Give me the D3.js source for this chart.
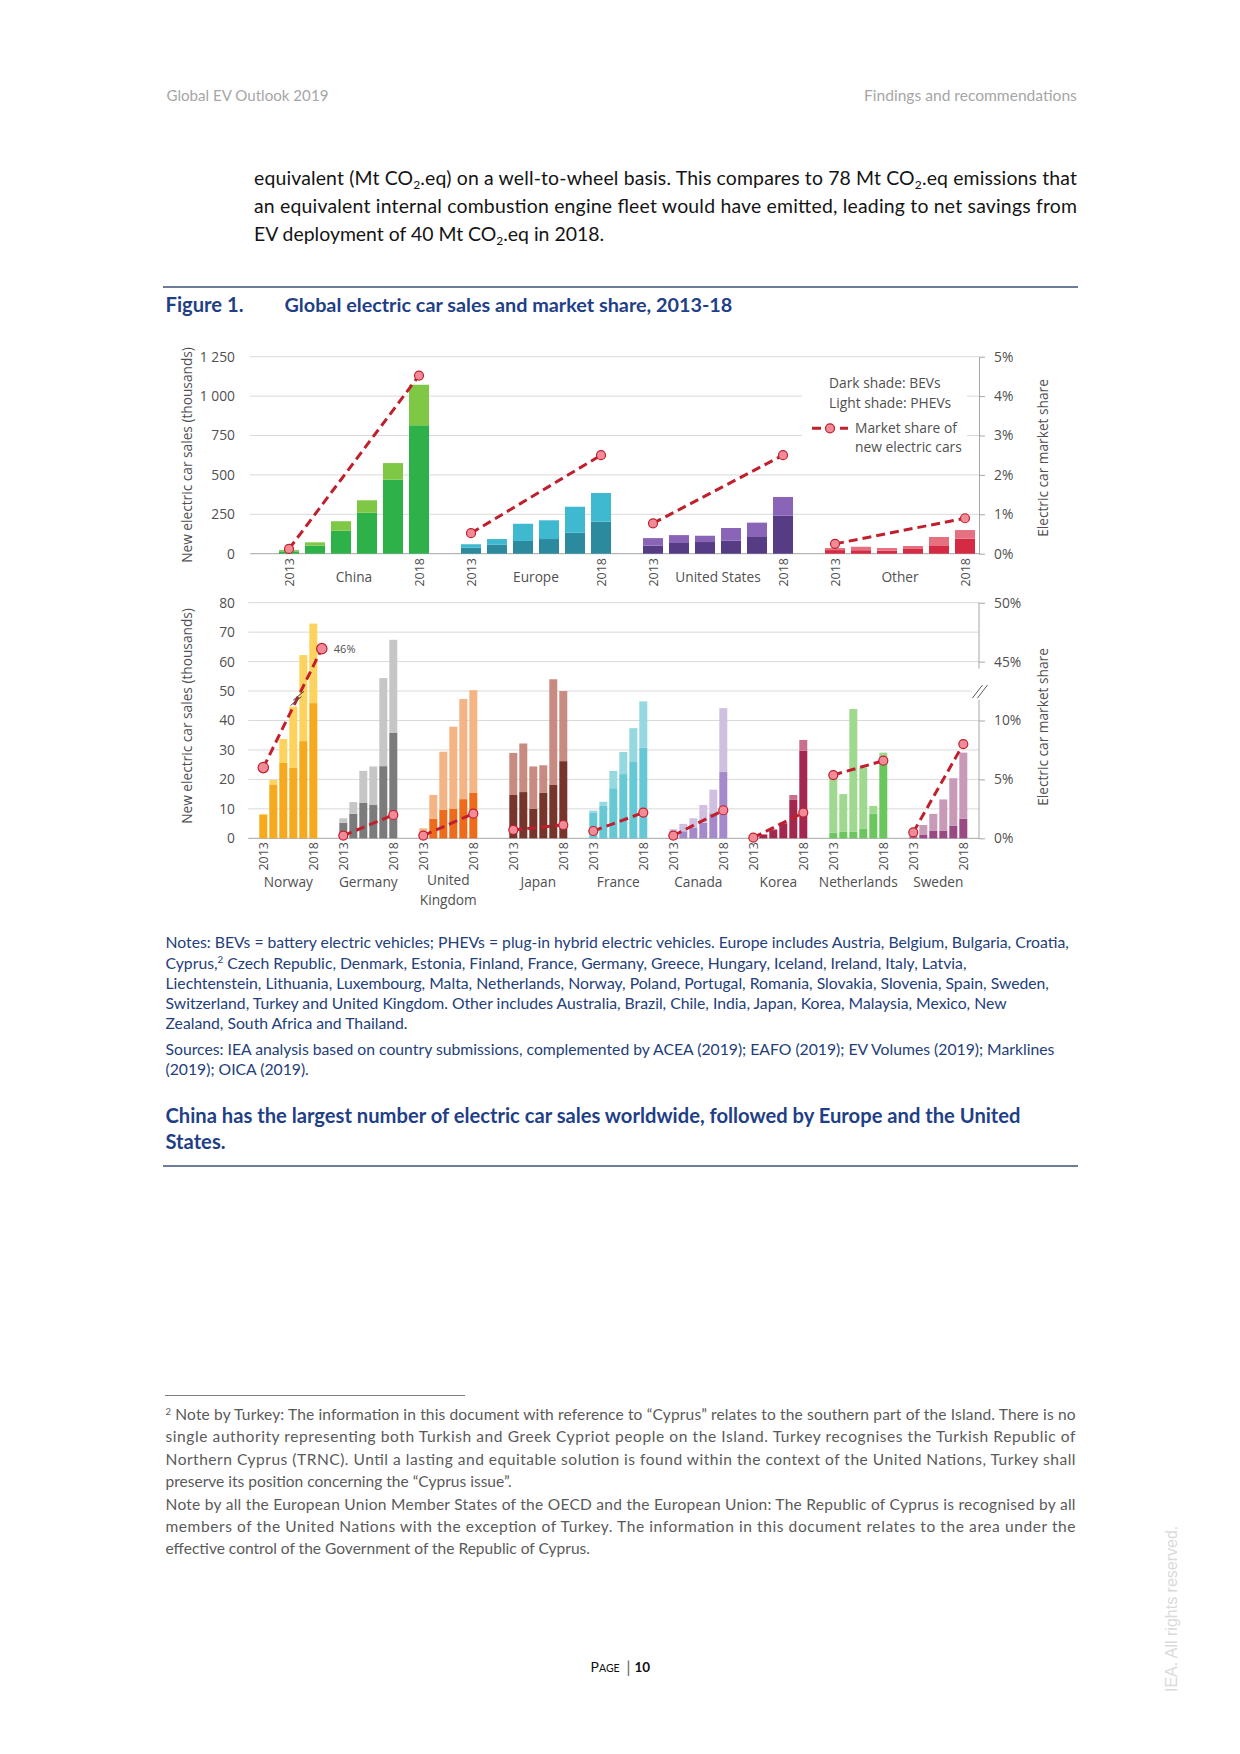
<!DOCTYPE html>
<html><head><meta charset="utf-8">
<script src="https://cdn.jsdelivr.net/npm/d3@7"></script>
<style>
html,body{margin:0;padding:0;background:#fff;}
svg{display:block;}
</style></head><body>
<svg id="page" width="1240" height="1754"></svg>
<script>
// ---------------- DATA ----------------
const years = ["2013","2014","2015","2016","2017","2018"];

const topRegions = ["China","Europe","United States","Other"];
const topBEV  = [[15,51,146,260,470,815],[38,57,81,93,133,203],[51,68,74,82,106,241],[23,22,19,30,49,95]];
const topPHEV = [[8,21,60,79,105,257],[22,36,109,119,165,182],[48,50,40,81,91,119],[13,22,17,19,57,55]];
const topShare = [[0.12,4.52],[0.52,2.5],[0.77,2.5],[0.25,0.9]];   // % in 2013 and 2018
const topSalesTicks = [0,250,500,750,1000,1250];
const topShareTicks = [0,1,2,3,4,5];

const countries = ["Norway","Germany","United Kingdom","Japan","France","Canada","Korea","Netherlands","Sweden"];
const botBEV = [
  [8.0,18.3,25.6,23.9,33.0,45.9],
  [5.3,8.3,12.0,11.3,24.5,35.9],
  [1.0,6.7,9.6,10.1,13.3,15.4],
  [14.7,15.7,10.1,15.4,18.1,26.2],
  [8.8,11.0,17.0,21.8,25.9,30.7],
  [1.3,2.4,3.7,5.3,8.5,22.5],
  [0.8,1.3,2.8,5.1,13.2,29.7],
  [1.9,2.3,2.3,3.2,8.3,26.5],
  [0.4,1.3,2.5,2.5,4.2,6.6]];
const botPHEV = [
  [0.3,1.5,8.1,20.8,29.2,27.0],
  [1.5,4.0,10.9,13.1,29.9,31.5],
  [2.4,8.0,19.8,27.8,34.0,34.9],
  [14.3,16.5,14.3,9.4,35.9,23.8],
  [0.6,1.4,5.9,7.5,11.5,15.8],
  [1.8,2.5,3.1,6.0,8.0,21.7],
  [0,0.1,0.3,0.2,1.5,3.7],
  [18.8,12.7,41.6,20.9,2.7,2.6],
  [1.1,3.2,5.8,10.7,16.2,22.5]];
const botShare = [[6.0,46.1],[0.23,1.98],[0.23,2.09],[0.71,1.13],[0.62,2.18],[0.23,2.38],[0.06,2.18],[5.37,6.59],[0.51,8.0]];
const botSalesTicks = [0,10,20,30,40,50,60,70,80];
const botShareTicks = [0,5,10,45,50];

// ---------------- STYLE ----------------
const topDark  = ["#2fb14a","#2b8a9e","#553c84","#d42a43"];
const topLight = ["#7fc846","#3fb9cf","#8a65b7","#e5707f"];
const botDark  = ["#f6a91c","#7b7b7b","#ee6b1c","#76342a","#67c8d5","#a58acb","#a3284f","#6bc65e","#9a4a82"];
const botLight = ["#fdd35d","#c6c6c6","#f5b484","#c88b81","#95d8e0","#cfc0e2","#c8708d","#9ed98f","#c89ab7"];
const CH = "'Open Sans','Noto Sans',sans-serif";
const BODY = "Lato,'Noto Sans',sans-serif";
const AX = "#505050";
const LINE = "#c0202e", MK = "#f28b98";
const TICK = 13.8, TITLE = 13.7, GROUP = 13.7, YEAR = 12.5;

const svg = d3.select("#page");
svg.append("rect").attr("width",1240).attr("height",1754).attr("fill","#fff");

// ---------------- PAGE TEXT HELPERS ----------------
function rich(parent, x, y, segs, size, attrs) {
  const t = parent.append("text").attr("x", x).attr("y", y).attr("font-size", size).attr("font-family", BODY);
  Object.entries(attrs||{}).forEach(([k,v]) => t.attr(k, v));
  let pending = 0;
  segs.forEach(s => {
    if (typeof s === "string") {
      const ts = t.append("tspan").text(s);
      if (pending) { ts.attr("dy", pending); pending = 0; }
    } else if (s.sub) {
      t.append("tspan").attr("dy", size*0.22).attr("font-size", size*0.62).attr("data-small",1).text(s.sub);
      pending = -size*0.22;
    } else if (s.sup) {
      t.append("tspan").attr("dy", -size*0.35).attr("font-size", size*0.62).attr("data-small",1).text(s.sup);
      pending = size*0.35;
    }
  });
  return t;
}
// paragraph: calibrate font size by a reference line, justify selected lines
function paragraph(parent, x, lines, baseSize, attrs, calibIdx, calibWidth) {
  const nodes = lines.map(l => rich(parent, x, l.y, l.segs, baseSize, attrs));
  const w = nodes[calibIdx].node().getComputedTextLength();
  const fs = baseSize * calibWidth / w;
  nodes.forEach((n, i) => {
    n.attr("font-size", fs);
    n.selectAll("tspan").each(function() {
      const el = d3.select(this);
      if (el.attr("data-small")) el.attr("font-size", fs*0.62);
      const dy = el.attr("dy");
      if (dy) el.attr("dy", (+dy) * fs / baseSize);
    });
    if (lines[i].w) n.attr("textLength", lines[i].w).attr("lengthAdjust", "spacing");
  });
  return nodes;
}

// Header
const hdr = svg.append("g").attr("fill","#a6a6a6");
paragraph(hdr, 166.5, [{y:101, segs:["Global EV Outlook 2019"]}], 15, {}, 0, 162);
paragraph(hdr, 864, [{y:101, segs:["Findings and recommendations"]}], 15, {}, 0, 213);

// Body paragraph
const body = svg.append("g").attr("fill","#141414");
paragraph(body, 254, [
  {y:185, w:823, segs:["equivalent (Mt CO",{sub:"2"},".eq) on a well-to-wheel basis. This compares to 78 Mt CO",{sub:"2"},".eq emissions that"]},
  {y:213, w:823, segs:["an equivalent internal combustion engine fleet would have emitted, leading to net savings from"]},
  {y:240.5, segs:["EV deployment of 40 Mt CO",{sub:"2"},".eq in 2018."]}
], 18, {}, 1, 805);

// Rules
svg.append("line").attr("x1",163).attr("x2",1078).attr("y1",287).attr("y2",287).attr("stroke","#3d5275").attr("stroke-width",1.5);
svg.append("line").attr("x1",163).attr("x2",1078).attr("y1",1166).attr("y2",1166).attr("stroke","#3d5275").attr("stroke-width",1.5);

// Figure title
const ttl = svg.append("g").attr("fill","#1f3f86");
paragraph(ttl, 165.5, [{y:312, segs:["Figure 1."]}], 19, {"font-weight":"bold"}, 0, 78);
paragraph(ttl, 284.5, [{y:312, segs:["Global electric car sales and market share, 2013-18"]}], 19, {"font-weight":"bold"}, 0, 448);

// Notes & sources
const notes = svg.append("g").attr("fill","#24407a");
paragraph(notes, 165.5, [
  {y:948, segs:["Notes:  BEVs = battery electric vehicles; PHEVs = plug-in hybrid electric vehicles. Europe includes Austria, Belgium, Bulgaria, Croatia,"]},
  {y:968.5, segs:["Cyprus,",{sup:"2"}," Czech Republic, Denmark, Estonia, Finland, France, Germany, Greece, Hungary, Iceland, Ireland, Italy, Latvia,"]},
  {y:988.5, segs:["Liechtenstein, Lithuania, Luxembourg, Malta, Netherlands, Norway, Poland, Portugal, Romania, Slovakia, Slovenia, Spain, Sweden,"]},
  {y:1009, segs:["Switzerland, Turkey and United Kingdom. Other includes Australia, Brazil, Chile, India, Japan, Korea, Malaysia, Mexico, New"]},
  {y:1029, segs:["Zealand, South Africa and Thailand."]},
  {y:1054.5, segs:["Sources: IEA analysis based on country submissions, complemented by ACEA (2019); EAFO (2019); EV Volumes (2019); Marklines"]},
  {y:1075, segs:["(2019); OICA (2019)."]}
], 15, {}, 0, 904);

// Conclusion
const concl = svg.append("g").attr("fill","#1f3f86");
paragraph(concl, 165.5, [
  {y:1123, segs:["China has the largest number of electric car sales worldwide, followed by Europe and the United"]},
  {y:1149, segs:["States."]}
], 19, {"font-weight":"bold"}, 0, 856);

// Footnotes
svg.append("line").attr("x1",165).attr("x2",465).attr("y1",1395.5).attr("y2",1395.5).attr("stroke","#7f7f7f").attr("stroke-width",1);
const fn = svg.append("g").attr("fill","#5a5a5a");
paragraph(fn, 165.5, [
  {y:1420, w:910, segs:[{sup:"2"}," Note by Turkey: The information in this document with reference to “Cyprus” relates to the southern part of the Island. There is no"]},
  {y:1442.4, w:910, segs:["single authority representing both Turkish and Greek Cypriot people on the Island. Turkey recognises the Turkish Republic of"]},
  {y:1464.8, w:910, segs:["Northern Cyprus (TRNC). Until a lasting and equitable solution is found within the context of the United Nations, Turkey shall"]},
  {y:1487.1, segs:["preserve its position concerning the “Cyprus issue”."]},
  {y:1509.5, w:910, segs:["Note by all the European Union Member States of the OECD and the European Union: The Republic of Cyprus is recognised by all"]},
  {y:1531.9, w:910, segs:["members of the United Nations with the exception of Turkey. The information in this document relates to the area under the"]},
  {y:1554.3, segs:["effective control of the Government of the Republic of Cyprus."]}
], 14.5, {}, 6, 425);

// Page number
const pg = svg.append("g").attr("font-family", BODY).attr("fill","#111");
pg.append("text").attr("x",590.5).attr("y",1672).attr("font-size",14).text("P");
pg.append("text").attr("x",599).attr("y",1672).attr("font-size",10.5).text("AGE");
pg.append("line").attr("x1",628.5).attr("x2",628.5).attr("y1",1660.5).attr("y2",1676).attr("stroke","#7f7f7f").attr("stroke-width",1.5);
pg.append("text").attr("x",634.5).attr("y",1672).attr("font-size",13.5).attr("font-weight","bold").text("10");

// Watermark
svg.append("text").attr("transform","translate(1177,1692) rotate(-90)")
  .attr("font-family","'Liberation Sans',Arial,sans-serif").attr("font-size",16).attr("fill","#dadada")
  .text("IEA. All rights reserved.");

// ---------------- TOP CHART ----------------
const gTop = svg.append("g").attr("font-family", CH);
const topKeys = ["lead"];
topRegions.forEach((r,i) => { if (i>0) topKeys.push("gap"+i); years.forEach(y => topKeys.push(r+"|"+y)); });
const xTop = d3.scaleBand().domain(topKeys).range([250,978]).paddingInner(0.23).paddingOuter(0.115);
const yTop = d3.scaleLinear().domain([0,1250]).range([553.7,356.7]);
const yTopS = d3.scaleLinear().domain([0,5]).range([553.7,356.7]);
const cxTop = k => xTop(k) + xTop.bandwidth()/2;

gTop.append("g").selectAll("line").data(topSalesTicks).join("line")
  .attr("x1",250).attr("x2",979).attr("y1",d=>yTop(d)).attr("y2",d=>yTop(d))
  .attr("stroke", d => d===0 ? "#a6a6a6" : "#d9d9d9").attr("stroke-width",1);

// legend background
gTop.append("rect").attr("x",802).attr("y",366).attr("width",165).attr("height",92).attr("fill","#fff");

// bars
const topBars = [];
topRegions.forEach((r,i) => years.forEach((y,j) => topBars.push({k:r+"|"+y, i, b:topBEV[i][j], p:topPHEV[i][j]})));
gTop.append("g").selectAll("rect").data(topBars).join("rect")
  .attr("x", d=>xTop(d.k)).attr("width", xTop.bandwidth())
  .attr("y", d=>yTop(d.b)).attr("height", d=>yTop(0)-yTop(d.b)).attr("fill", d=>topDark[d.i]);
gTop.append("g").selectAll("rect").data(topBars).join("rect")
  .attr("x", d=>xTop(d.k)).attr("width", xTop.bandwidth())
  .attr("y", d=>yTop(d.b+d.p)).attr("height", d=>yTop(d.b)-yTop(d.b+d.p)).attr("fill", d=>topLight[d.i]);

// share lines
topRegions.forEach((r,i) => {
  const pts = [[cxTop(r+"|2013"), yTopS(topShare[i][0])], [cxTop(r+"|2018"), yTopS(topShare[i][1])]];
  gTop.append("path").attr("d", d3.line()(pts)).attr("fill","none").attr("stroke",LINE)
    .attr("stroke-width",3).attr("stroke-dasharray","9,5");
  gTop.selectAll(null).data(pts).join("circle").attr("cx",d=>d[0]).attr("cy",d=>d[1]).attr("r",4.5)
    .attr("fill",MK).attr("stroke",LINE).attr("stroke-width",1.2);
});

// axes
const axL = gTop.append("g").attr("transform","translate(239,0)")
  .call(d3.axisLeft(yTop).tickValues(topSalesTicks).tickFormat(d => d3.format(",")(d).replace(","," ")).tickSize(0).tickPadding(4));
axL.select(".domain").remove();
const axR = gTop.append("g").attr("transform","translate(979,0)")
  .call(d3.axisRight(yTopS).tickValues(topShareTicks).tickFormat(d => d+"%").tickSizeInner(6).tickSizeOuter(0).tickPadding(9));
axR.select(".domain").attr("stroke","#a6a6a6");
axR.selectAll(".tick line").attr("stroke","#a6a6a6");
[axL, axR].forEach(a => a.selectAll("text").attr("font-family",CH).attr("font-size",TICK).attr("fill",AX));

// x labels
topRegions.forEach(r => {
  ["2013","2018"].forEach(y => gTop.append("text").attr("transform",`translate(${cxTop(r+"|"+y)},558) rotate(-90)`)
    .attr("text-anchor","end").attr("dy","0.36em").attr("font-size",YEAR).attr("fill",AX).text(y));
  const mid = (cxTop(r+"|2015") + cxTop(r+"|2016"))/2;
  gTop.append("text").attr("x",mid).attr("y",581.5).attr("text-anchor","middle").attr("font-size",GROUP).attr("fill",AX).text(r);
});

// axis titles
gTop.append("text").attr("transform","translate(187,455) rotate(-90)").attr("text-anchor","middle").attr("dy","0.35em")
  .attr("font-size",TITLE).attr("fill",AX).text("New electric car sales (thousands)");
gTop.append("text").attr("transform","translate(1043,458) rotate(-90)").attr("text-anchor","middle").attr("dy","0.35em")
  .attr("font-size",TITLE).attr("fill",AX).text("Electric car market share");

// legend
const lg = gTop.append("g").attr("font-size",TICK).attr("fill",AX);
lg.append("text").attr("x",829).attr("y",387.5).text("Dark shade: BEVs");
lg.append("text").attr("x",829).attr("y",408).text("Light shade: PHEVs");
lg.append("line").attr("x1",812).attr("x2",848).attr("y1",428.3).attr("y2",428.3).attr("stroke",LINE).attr("stroke-width",3).attr("stroke-dasharray","9,5");
lg.append("circle").attr("cx",830).attr("cy",428.3).attr("r",4.5).attr("fill",MK).attr("stroke",LINE).attr("stroke-width",1.2);
lg.append("text").attr("x",855).attr("y",433).text("Market share of");
lg.append("text").attr("x",855).attr("y",452).text("new electric cars");

// ---------------- BOTTOM CHART ----------------
const gBot = svg.append("g").attr("font-family", CH);
const gapAfter = [2,2,3,2,2,2,2,2,1];
const botKeys = ["lead"];
countries.forEach((c,i) => { years.forEach(y => botKeys.push(c+"|"+y)); for (let g=0; g<gapAfter[i]; g++) botKeys.push("gap"+i+"_"+g); });
const xBot = d3.scaleBand().domain(botKeys).range([248.3,978.3]).paddingInner(0.2).paddingOuter(0.1);
const yBot = d3.scaleLinear().domain([0,80]).range([838.3,602.7]);
const yBotS = d3.scaleLinear().domain([0,10,45,50]).range([yBot(0),yBot(40),yBot(60),yBot(80)]);
const cxBot = k => xBot(k) + xBot.bandwidth()/2;

gBot.append("g").selectAll("line").data(botSalesTicks).join("line")
  .attr("x1",248.3).attr("x2",d => d===50 ? 972 : 979).attr("y1",d=>yBot(d)).attr("y2",d=>yBot(d))
  .attr("stroke", d => d===0 ? "#a6a6a6" : "#d9d9d9").attr("stroke-width",1);

const botBars = [];
countries.forEach((c,i) => years.forEach((y,j) => botBars.push({k:c+"|"+y, i, b:botBEV[i][j], p:botPHEV[i][j]})));
gBot.append("g").selectAll("rect").data(botBars).join("rect")
  .attr("x", d=>xBot(d.k)).attr("width", xBot.bandwidth())
  .attr("y", d=>yBot(d.b)).attr("height", d=>yBot(0)-yBot(d.b)).attr("fill", d=>botDark[d.i]);
gBot.append("g").selectAll("rect").data(botBars).join("rect")
  .attr("x", d=>xBot(d.k)).attr("width", xBot.bandwidth())
  .attr("y", d=>yBot(d.b+d.p)).attr("height", d=>yBot(d.b)-yBot(d.b+d.p)).attr("fill", d=>botLight[d.i]);

countries.forEach((c,i) => {
  // Norway's 46% point sits just beside its last bar (as in the source figure)
  const endShift = i === 0 ? xBot.step()*0.85 : 0;
  const pts = [[cxBot(c+"|2013"), yBotS(botShare[i][0])], [cxBot(c+"|2018") + endShift, yBotS(botShare[i][1])]];
  gBot.append("path").attr("d", d3.line()(pts)).attr("fill","none").attr("stroke",LINE)
    .attr("stroke-width",3).attr("stroke-dasharray","9,5");
  if (i === 0) {
    // axis-break mark "//" across the Norway line
    const yb = yBot(47.5), t = (yb - pts[0][1])/(pts[1][1]-pts[0][1]);
    const xb = pts[0][0] + t*(pts[1][0]-pts[0][0]);
    [-3, 3].forEach(o => gBot.append("line")
      .attr("x1", xb-5.5+o*0.45).attr("y1", yb+4.5-o*0.9).attr("x2", xb+5.5+o*0.45).attr("y2", yb-4.5-o*0.9)
      .attr("stroke","#4a4a4a").attr("stroke-width",1));
  }
  gBot.selectAll(null).data(pts).join("circle").attr("cx",d=>d[0]).attr("cy",d=>d[1]).attr("r", i===0 ? 5.2 : 4.5)
    .attr("fill",MK).attr("stroke",LINE).attr("stroke-width",1.2);
  if (i === 0) gBot.append("text").attr("x",pts[1][0]+12).attr("y",pts[1][1]+4).attr("font-size",11).attr("fill",AX)
    .text(Math.round(botShare[i][1]) + "%");
});

const bL = gBot.append("g").attr("transform","translate(239,0)")
  .call(d3.axisLeft(yBot).tickValues(botSalesTicks).tickSize(0).tickPadding(4));
bL.select(".domain").remove();
const bR = gBot.append("g").attr("transform","translate(979,0)")
  .call(d3.axisRight(yBotS).tickValues(botShareTicks).tickFormat(d => d+"%").tickSizeInner(6).tickSizeOuter(0).tickPadding(9));
bR.select(".domain").remove();
bR.selectAll(".tick line").attr("stroke","#a6a6a6");
[bL, bR].forEach(a => a.selectAll("text").attr("font-family",CH).attr("font-size",TICK).attr("fill",AX));
gBot.append("line").attr("x1",979).attr("x2",979).attr("y1",yBot(80)).attr("y2",yBotS(45)+7).attr("stroke","#a6a6a6");
gBot.append("line").attr("x1",979).attr("x2",979).attr("y1",yBot(47)).attr("y2",yBot(0)).attr("stroke","#a6a6a6");
[-2.5,2.5].forEach(o => gBot.append("line").attr("x1",975+o).attr("y1",698).attr("x2",985+o).attr("y2",685)
  .attr("stroke","#595959").attr("stroke-width",1));

countries.forEach(c => {
  ["2013","2018"].forEach(y => gBot.append("text").attr("transform",`translate(${cxBot(c+"|"+y)},842) rotate(-90)`)
    .attr("text-anchor","end").attr("dy","0.36em").attr("font-size",YEAR).attr("fill",AX).text(y));
  const mid = (cxBot(c+"|2015") + cxBot(c+"|2016"))/2;
  const parts = c === "United Kingdom" ? ["United","Kingdom"] : [c];
  parts.forEach((p,k) => gBot.append("text").attr("x",mid).attr("y",(parts.length>1 ? 885 : 886.5) + k*20)
    .attr("text-anchor","middle").attr("font-size",GROUP).attr("fill",AX).text(p));
});

gBot.append("text").attr("transform","translate(187,716) rotate(-90)").attr("text-anchor","middle").attr("dy","0.35em")
  .attr("font-size",TITLE).attr("fill",AX).text("New electric car sales (thousands)");
gBot.append("text").attr("transform","translate(1043,727) rotate(-90)").attr("text-anchor","middle").attr("dy","0.35em")
  .attr("font-size",TITLE).attr("fill",AX).text("Electric car market share");
</script></body></html>
